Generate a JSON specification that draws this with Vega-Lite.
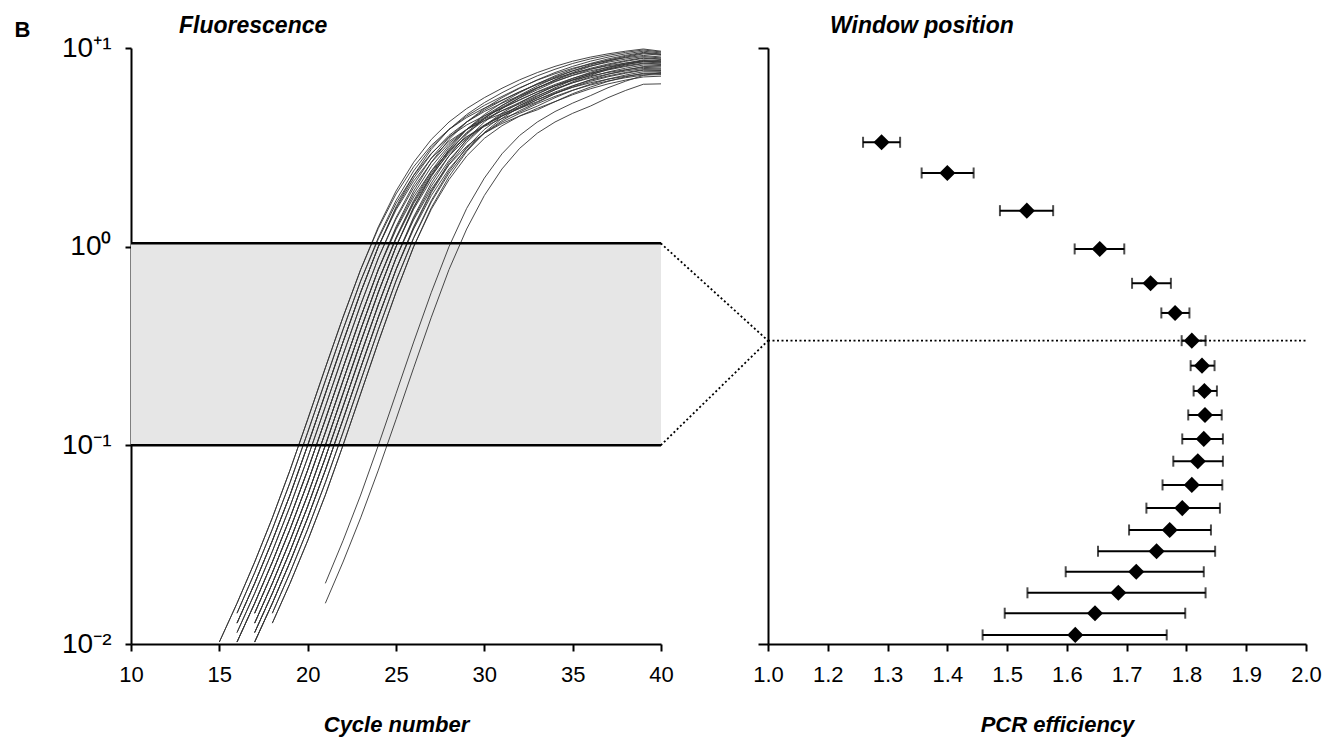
{
"$schema": "https://vega.github.io/schema/vega-lite/v6.json",
"padding": {"left": 14, "top": 15, "right": 5, "bottom": 5},
"background": "white",
"bounds": "flush",
"spacing": 107,
"config": {
  "font": "Liberation Sans",
  "view": {"stroke": null},
  "axis": {"grid": false, "domainColor": "#000", "domainWidth": 2, "tickColor": "#000", "tickWidth": 2, "labelColor": "#000", "titleColor": "#000", "labelFont": "Liberation Sans", "titleFont": "Liberation Sans", "labelFlush": false, "labelOverlap": false},
  "title": {"font": "Liberation Sans", "color": "#000"}
},
"datasets": {
  "band": [{"c": 10, "c2": 40, "f": 0.1, "f2": 1.04}],
  "edges": [{"c": 10, "c2": 40, "f": 0.1}, {"c": 10, "c2": 40, "f": 1.04}],
  "dots": [{"e": 0.9206, "w": 1.04, "e2": 1.1, "w2": 0.3364}, {"e": 0.9206, "w": 0.1, "e2": 1.1, "w2": 0.3364}, {"e": 1.1, "w": 0.3364, "e2": 2.0, "w2": 0.3364}],
  "eff": [
    {"w": 3.353, "e": 1.290, "lo": 1.259, "hi": 1.321},
    {"w": 2.349, "e": 1.400, "lo": 1.357, "hi": 1.444},
    {"w": 1.518, "e": 1.533, "lo": 1.488, "hi": 1.577},
    {"w": 0.974, "e": 1.655, "lo": 1.613, "hi": 1.696},
    {"w": 0.654, "e": 1.740, "lo": 1.709, "hi": 1.774},
    {"w": 0.4638, "e": 1.781, "lo": 1.758, "hi": 1.805},
    {"w": 0.3364, "e": 1.809, "lo": 1.792, "hi": 1.832},
    {"w": 0.2518, "e": 1.826, "lo": 1.807, "hi": 1.847},
    {"w": 0.1878, "e": 1.830, "lo": 1.812, "hi": 1.851},
    {"w": 0.1422, "e": 1.831, "lo": 1.803, "hi": 1.859},
    {"w": 0.1077, "e": 1.829, "lo": 1.793, "hi": 1.861},
    {"w": 0.0832, "e": 1.819, "lo": 1.778, "hi": 1.861},
    {"w": 0.0632, "e": 1.809, "lo": 1.760, "hi": 1.860},
    {"w": 0.0483, "e": 1.793, "lo": 1.733, "hi": 1.856},
    {"w": 0.0375, "e": 1.772, "lo": 1.704, "hi": 1.841},
    {"w": 0.0293, "e": 1.750, "lo": 1.652, "hi": 1.848},
    {"w": 0.0231, "e": 1.716, "lo": 1.598, "hi": 1.829},
    {"w": 0.0181, "e": 1.686, "lo": 1.534, "hi": 1.832},
    {"w": 0.01429, "e": 1.647, "lo": 1.496, "hi": 1.798},
    {"w": 0.01111, "e": 1.614, "lo": 1.459, "hi": 1.767}
  ],
  "curves": [
{"s":1,"c":15,"f":0.01023},{"s":1,"c":16,"f":0.01603},{"s":1,"c":17,"f":0.02585},{"s":1,"c":18,"f":0.04315},{"s":1,"c":19,"f":0.075},{"s":1,"c":20,"f":0.1349},{"s":1,"c":21,"f":0.2455},{"s":1,"c":22,"f":0.4416},{"s":1,"c":23,"f":0.767},{"s":1,"c":24,"f":1.259},{"s":1,"c":25,"f":1.905},{"s":1,"c":26,"f":2.661},{"s":1,"c":27,"f":3.467},{"s":1,"c":28,"f":4.242},{"s":1,"c":29,"f":4.955},{"s":1,"c":30,"f":5.623},{"s":1,"c":31,"f":6.273},{"s":1,"c":32,"f":6.918},{"s":1,"c":33,"f":7.524},{"s":1,"c":34,"f":8.082},{"s":1,"c":35,"f":8.58},{"s":1,"c":36,"f":8.995},{"s":1,"c":37,"f":9.344},{"s":1,"c":38,"f":9.638},{"s":1,"c":39,"f":9.886},{"s":1,"c":40,"f":9.636},
{"s":2,"c":15,"f":0.01023},{"s":2,"c":16,"f":0.01603},{"s":2,"c":17,"f":0.02585},{"s":2,"c":18,"f":0.04315},{"s":2,"c":19,"f":0.075},{"s":2,"c":20,"f":0.1349},{"s":2,"c":21,"f":0.2455},{"s":2,"c":22,"f":0.4416},{"s":2,"c":23,"f":0.767},{"s":2,"c":24,"f":1.237},{"s":2,"c":25,"f":1.84},{"s":2,"c":26,"f":2.527},{"s":2,"c":27,"f":3.236},{"s":2,"c":28,"f":3.891},{"s":2,"c":29,"f":4.467},{"s":2,"c":30,"f":4.983},{"s":2,"c":31,"f":5.464},{"s":2,"c":32,"f":6.026},{"s":2,"c":33,"f":6.553},{"s":2,"c":34,"f":7.039},{"s":2,"c":35,"f":7.473},{"s":2,"c":36,"f":7.835},{"s":2,"c":37,"f":8.139},{"s":2,"c":38,"f":8.395},{"s":2,"c":39,"f":8.611},{"s":2,"c":40,"f":8.48},
{"s":3,"c":16,"f":0.01429},{"s":3,"c":17,"f":0.02285},{"s":3,"c":18,"f":0.0378},{"s":3,"c":19,"f":0.06494},{"s":3,"c":20,"f":0.1161},{"s":3,"c":21,"f":0.2113},{"s":3,"c":22,"f":0.3824},{"s":3,"c":23,"f":0.6722},{"s":3,"c":24,"f":1.112},{"s":3,"c":25,"f":1.708},{"s":3,"c":26,"f":2.406},{"s":3,"c":27,"f":3.162},{"s":3,"c":28,"f":3.89},{"s":3,"c":29,"f":4.544},{"s":3,"c":30,"f":5.142},{"s":3,"c":31,"f":5.703},{"s":3,"c":32,"f":6.31},{"s":3,"c":33,"f":6.891},{"s":3,"c":34,"f":7.418},{"s":3,"c":35,"f":7.903},{"s":3,"c":36,"f":8.308},{"s":3,"c":37,"f":8.646},{"s":3,"c":38,"f":8.934},{"s":3,"c":39,"f":9.173},{"s":3,"c":40,"f":9.005},
{"s":4,"c":16,"f":0.01429},{"s":4,"c":17,"f":0.02285},{"s":4,"c":18,"f":0.0378},{"s":4,"c":19,"f":0.06494},{"s":4,"c":20,"f":0.1161},{"s":4,"c":21,"f":0.2113},{"s":4,"c":22,"f":0.3824},{"s":4,"c":23,"f":0.6722},{"s":4,"c":24,"f":1.093},{"s":4,"c":25,"f":1.65},{"s":4,"c":26,"f":2.284},{"s":4,"c":27,"f":2.951},{"s":4,"c":28,"f":3.568},{"s":4,"c":29,"f":4.097},{"s":4,"c":30,"f":4.557},{"s":4,"c":31,"f":4.967},{"s":4,"c":32,"f":5.495},{"s":4,"c":33,"f":6.001},{"s":4,"c":34,"f":6.46},{"s":4,"c":35,"f":6.883},{"s":4,"c":36,"f":7.236},{"s":4,"c":37,"f":7.53},{"s":4,"c":38,"f":7.78},{"s":4,"c":39,"f":7.989},{"s":4,"c":40,"f":7.924},
{"s":5,"c":16,"f":0.01274},{"s":5,"c":17,"f":0.0202},{"s":5,"c":18,"f":0.0331},{"s":5,"c":19,"f":0.0562},{"s":5,"c":20,"f":0.1},{"s":5,"c":21,"f":0.182},{"s":5,"c":22,"f":0.331},{"s":5,"c":23,"f":0.589},{"s":5,"c":24,"f":1.0},{"s":5,"c":25,"f":1.585},{"s":5,"c":26,"f":2.291},{"s":5,"c":27,"f":3.09},{"s":5,"c":28,"f":3.89},{"s":5,"c":29,"f":4.624},{"s":5,"c":30,"f":5.309},{"s":5,"c":31,"f":5.957},{"s":5,"c":32,"f":6.607},{"s":5,"c":33,"f":7.244},{"s":5,"c":34,"f":7.816},{"s":5,"c":35,"f":8.356},{"s":5,"c":36,"f":8.81},{"s":5,"c":37,"f":9.183},{"s":5,"c":38,"f":9.506},{"s":5,"c":39,"f":9.772},{"s":5,"c":40,"f":9.55},
{"s":6,"c":16,"f":0.01274},{"s":6,"c":17,"f":0.0202},{"s":6,"c":18,"f":0.0331},{"s":6,"c":19,"f":0.0562},{"s":6,"c":20,"f":0.1},{"s":6,"c":21,"f":0.182},{"s":6,"c":22,"f":0.331},{"s":6,"c":23,"f":0.589},{"s":6,"c":24,"f":1.0},{"s":6,"c":25,"f":1.558},{"s":6,"c":26,"f":2.213},{"s":6,"c":27,"f":2.934},{"s":6,"c":28,"f":3.631},{"s":6,"c":29,"f":4.242},{"s":6,"c":30,"f":4.787},{"s":6,"c":31,"f":5.279},{"s":6,"c":32,"f":5.755},{"s":6,"c":33,"f":6.31},{"s":6,"c":34,"f":6.808},{"s":6,"c":35,"f":7.278},{"s":6,"c":36,"f":7.674},{"s":6,"c":37,"f":7.998},{"s":6,"c":38,"f":8.28},{"s":6,"c":39,"f":8.511},{"s":6,"c":40,"f":8.405},
{"s":7,"c":16,"f":0.01142},{"s":7,"c":17,"f":0.01799},{"s":7,"c":18,"f":0.02926},{"s":7,"c":19,"f":0.04926},{"s":7,"c":20,"f":0.0866},{"s":7,"c":21,"f":0.1567},{"s":7,"c":22,"f":0.2851},{"s":7,"c":23,"f":0.51},{"s":7,"c":24,"f":0.876},{"s":7,"c":25,"f":1.401},{"s":7,"c":26,"f":2.053},{"s":7,"c":27,"f":2.794},{"s":7,"c":28,"f":3.548},{"s":7,"c":29,"f":4.241},{"s":7,"c":30,"f":4.87},{"s":7,"c":31,"f":5.448},{"s":7,"c":32,"f":6.009},{"s":7,"c":33,"f":6.607},{"s":7,"c":34,"f":7.158},{"s":7,"c":35,"f":7.67},{"s":7,"c":36,"f":8.114},{"s":7,"c":37,"f":8.483},{"s":7,"c":38,"f":8.796},{"s":7,"c":39,"f":9.058},{"s":7,"c":40,"f":8.909},
{"s":8,"c":16,"f":0.01142},{"s":8,"c":17,"f":0.01799},{"s":8,"c":18,"f":0.02926},{"s":8,"c":19,"f":0.04926},{"s":8,"c":20,"f":0.0866},{"s":8,"c":21,"f":0.1567},{"s":8,"c":22,"f":0.2851},{"s":8,"c":23,"f":0.51},{"s":8,"c":24,"f":0.876},{"s":8,"c":25,"f":1.377},{"s":8,"c":26,"f":1.984},{"s":8,"c":27,"f":2.653},{"s":8,"c":28,"f":3.312},{"s":8,"c":29,"f":3.89},{"s":8,"c":30,"f":4.39},{"s":8,"c":31,"f":4.828},{"s":8,"c":32,"f":5.233},{"s":8,"c":33,"f":5.754},{"s":8,"c":34,"f":6.234},{"s":8,"c":35,"f":6.68},{"s":8,"c":36,"f":7.067},{"s":8,"c":37,"f":7.388},{"s":8,"c":38,"f":7.661},{"s":8,"c":39,"f":7.888},{"s":8,"c":40,"f":7.84},
{"s":9,"c":16,"f":0.01023},{"s":9,"c":17,"f":0.01603},{"s":9,"c":18,"f":0.02585},{"s":9,"c":19,"f":0.04315},{"s":9,"c":20,"f":0.075},{"s":9,"c":21,"f":0.1349},{"s":9,"c":22,"f":0.2455},{"s":9,"c":23,"f":0.4416},{"s":9,"c":24,"f":0.767},{"s":9,"c":25,"f":1.259},{"s":9,"c":26,"f":1.905},{"s":9,"c":27,"f":2.661},{"s":9,"c":28,"f":3.467},{"s":9,"c":29,"f":4.242},{"s":9,"c":30,"f":4.955},{"s":9,"c":31,"f":5.623},{"s":9,"c":32,"f":6.273},{"s":9,"c":33,"f":6.918},{"s":9,"c":34,"f":7.524},{"s":9,"c":35,"f":8.082},{"s":9,"c":36,"f":8.58},{"s":9,"c":37,"f":8.995},{"s":9,"c":38,"f":9.344},{"s":9,"c":39,"f":9.638},{"s":9,"c":40,"f":9.441},
{"s":10,"c":16,"f":0.01023},{"s":10,"c":17,"f":0.01603},{"s":10,"c":18,"f":0.02585},{"s":10,"c":19,"f":0.04315},{"s":10,"c":20,"f":0.075},{"s":10,"c":21,"f":0.1349},{"s":10,"c":22,"f":0.2455},{"s":10,"c":23,"f":0.4416},{"s":10,"c":24,"f":0.767},{"s":10,"c":25,"f":1.237},{"s":10,"c":26,"f":1.84},{"s":10,"c":27,"f":2.527},{"s":10,"c":28,"f":3.236},{"s":10,"c":29,"f":3.891},{"s":10,"c":30,"f":4.467},{"s":10,"c":31,"f":4.983},{"s":10,"c":32,"f":5.464},{"s":10,"c":33,"f":6.026},{"s":10,"c":34,"f":6.553},{"s":10,"c":35,"f":7.039},{"s":10,"c":36,"f":7.473},{"s":10,"c":37,"f":7.835},{"s":10,"c":38,"f":8.139},{"s":10,"c":39,"f":8.395},{"s":10,"c":40,"f":8.31},
{"s":11,"c":16,"f":0.01023},{"s":11,"c":17,"f":0.01603},{"s":11,"c":18,"f":0.02585},{"s":11,"c":19,"f":0.04315},{"s":11,"c":20,"f":0.075},{"s":11,"c":21,"f":0.1349},{"s":11,"c":22,"f":0.2455},{"s":11,"c":23,"f":0.4416},{"s":11,"c":24,"f":0.767},{"s":11,"c":25,"f":1.216},{"s":11,"c":26,"f":1.778},{"s":11,"c":27,"f":2.399},{"s":11,"c":28,"f":3.02},{"s":11,"c":29,"f":3.569},{"s":11,"c":30,"f":4.027},{"s":11,"c":31,"f":4.415},{"s":11,"c":32,"f":4.759},{"s":11,"c":33,"f":5.248},{"s":11,"c":34,"f":5.708},{"s":11,"c":35,"f":6.131},{"s":11,"c":36,"f":6.509},{"s":11,"c":37,"f":6.824},{"s":11,"c":38,"f":7.088},{"s":11,"c":39,"f":7.311},{"s":11,"c":40,"f":7.349},
{"s":12,"c":17,"f":0.01429},{"s":12,"c":18,"f":0.02285},{"s":12,"c":19,"f":0.0378},{"s":12,"c":20,"f":0.06494},{"s":12,"c":21,"f":0.1161},{"s":12,"c":22,"f":0.2113},{"s":12,"c":23,"f":0.3824},{"s":12,"c":24,"f":0.6722},{"s":12,"c":25,"f":1.112},{"s":12,"c":26,"f":1.708},{"s":12,"c":27,"f":2.406},{"s":12,"c":28,"f":3.162},{"s":12,"c":29,"f":3.89},{"s":12,"c":30,"f":4.544},{"s":12,"c":31,"f":5.142},{"s":12,"c":32,"f":5.703},{"s":12,"c":33,"f":6.31},{"s":12,"c":34,"f":6.891},{"s":12,"c":35,"f":7.418},{"s":12,"c":36,"f":7.903},{"s":12,"c":37,"f":8.308},{"s":12,"c":38,"f":8.646},{"s":12,"c":39,"f":8.934},{"s":12,"c":40,"f":8.806},
{"s":13,"c":17,"f":0.01429},{"s":13,"c":18,"f":0.02285},{"s":13,"c":19,"f":0.0378},{"s":13,"c":20,"f":0.06494},{"s":13,"c":21,"f":0.1161},{"s":13,"c":22,"f":0.2113},{"s":13,"c":23,"f":0.3824},{"s":13,"c":24,"f":0.6722},{"s":13,"c":25,"f":1.103},{"s":13,"c":26,"f":1.679},{"s":13,"c":27,"f":2.344},{"s":13,"c":28,"f":3.055},{"s":13,"c":29,"f":3.726},{"s":13,"c":30,"f":4.315},{"s":13,"c":31,"f":4.841},{"s":13,"c":32,"f":5.323},{"s":13,"c":33,"f":5.889},{"s":13,"c":34,"f":6.431},{"s":13,"c":35,"f":6.923},{"s":13,"c":36,"f":7.376},{"s":13,"c":37,"f":7.754},{"s":13,"c":38,"f":8.069},{"s":13,"c":39,"f":8.337},{"s":13,"c":40,"f":8.261},
{"s":27,"c":17,"f":0.01429},{"s":27,"c":18,"f":0.02285},{"s":27,"c":19,"f":0.0378},{"s":27,"c":20,"f":0.06494},{"s":27,"c":21,"f":0.1161},{"s":27,"c":22,"f":0.2113},{"s":27,"c":23,"f":0.3824},{"s":27,"c":24,"f":0.6722},{"s":27,"c":25,"f":1.093},{"s":27,"c":26,"f":1.65},{"s":27,"c":27,"f":2.284},{"s":27,"c":28,"f":2.951},{"s":27,"c":29,"f":3.568},{"s":27,"c":30,"f":4.097},{"s":27,"c":31,"f":4.557},{"s":27,"c":32,"f":4.967},{"s":27,"c":33,"f":5.495},{"s":27,"c":34,"f":6.001},{"s":27,"c":35,"f":6.46},{"s":27,"c":36,"f":6.883},{"s":27,"c":37,"f":7.236},{"s":27,"c":38,"f":7.53},{"s":27,"c":39,"f":7.78},{"s":27,"c":40,"f":7.749},
{"s":14,"c":17,"f":0.01274},{"s":14,"c":18,"f":0.0202},{"s":14,"c":19,"f":0.0331},{"s":14,"c":20,"f":0.0562},{"s":14,"c":21,"f":0.1},{"s":14,"c":22,"f":0.182},{"s":14,"c":23,"f":0.331},{"s":14,"c":24,"f":0.589},{"s":14,"c":25,"f":1.0},{"s":14,"c":26,"f":1.571},{"s":14,"c":27,"f":2.252},{"s":14,"c":28,"f":3.011},{"s":14,"c":29,"f":3.758},{"s":14,"c":30,"f":4.428},{"s":14,"c":31,"f":5.041},{"s":14,"c":32,"f":5.607},{"s":14,"c":33,"f":6.166},{"s":14,"c":34,"f":6.761},{"s":14,"c":35,"f":7.295},{"s":14,"c":36,"f":7.799},{"s":14,"c":37,"f":8.222},{"s":14,"c":38,"f":8.57},{"s":14,"c":39,"f":8.872},{"s":14,"c":40,"f":8.755},
{"s":15,"c":17,"f":0.01274},{"s":15,"c":18,"f":0.0202},{"s":15,"c":19,"f":0.0331},{"s":15,"c":20,"f":0.0562},{"s":15,"c":21,"f":0.1},{"s":15,"c":22,"f":0.182},{"s":15,"c":23,"f":0.331},{"s":15,"c":24,"f":0.589},{"s":15,"c":25,"f":1.0},{"s":15,"c":26,"f":1.544},{"s":15,"c":27,"f":2.175},{"s":15,"c":28,"f":2.859},{"s":15,"c":29,"f":3.507},{"s":15,"c":30,"f":4.062},{"s":15,"c":31,"f":4.545},{"s":15,"c":32,"f":4.969},{"s":15,"c":33,"f":5.37},{"s":15,"c":34,"f":5.888},{"s":15,"c":35,"f":6.353},{"s":15,"c":36,"f":6.792},{"s":15,"c":37,"f":7.161},{"s":15,"c":38,"f":7.464},{"s":15,"c":39,"f":7.727},{"s":15,"c":40,"f":7.705},
{"s":16,"c":17,"f":0.01274},{"s":16,"c":18,"f":0.0202},{"s":16,"c":19,"f":0.0331},{"s":16,"c":20,"f":0.0562},{"s":16,"c":21,"f":0.1},{"s":16,"c":22,"f":0.182},{"s":16,"c":23,"f":0.331},{"s":16,"c":24,"f":0.589},{"s":16,"c":25,"f":1.0},{"s":16,"c":26,"f":1.585},{"s":16,"c":27,"f":2.291},{"s":16,"c":28,"f":3.09},{"s":16,"c":29,"f":3.89},{"s":16,"c":30,"f":4.624},{"s":16,"c":31,"f":5.309},{"s":16,"c":32,"f":5.957},{"s":16,"c":33,"f":6.607},{"s":16,"c":34,"f":7.244},{"s":16,"c":35,"f":7.816},{"s":16,"c":36,"f":8.356},{"s":16,"c":37,"f":8.81},{"s":16,"c":38,"f":9.183},{"s":16,"c":39,"f":9.506},{"s":16,"c":40,"f":9.332},
{"s":17,"c":17,"f":0.01142},{"s":17,"c":18,"f":0.01799},{"s":17,"c":19,"f":0.02926},{"s":17,"c":20,"f":0.04926},{"s":17,"c":21,"f":0.0866},{"s":17,"c":22,"f":0.1567},{"s":17,"c":23,"f":0.2851},{"s":17,"c":24,"f":0.51},{"s":17,"c":25,"f":0.876},{"s":17,"c":26,"f":1.389},{"s":17,"c":27,"f":2.018},{"s":17,"c":28,"f":2.722},{"s":17,"c":29,"f":3.428},{"s":17,"c":30,"f":4.062},{"s":17,"c":31,"f":4.624},{"s":17,"c":32,"f":5.129},{"s":17,"c":33,"f":5.607},{"s":17,"c":34,"f":6.166},{"s":17,"c":35,"f":6.681},{"s":17,"c":36,"f":7.158},{"s":17,"c":37,"f":7.572},{"s":17,"c":38,"f":7.917},{"s":17,"c":39,"f":8.209},{"s":17,"c":40,"f":8.157},
{"s":18,"c":17,"f":0.01142},{"s":18,"c":18,"f":0.01799},{"s":18,"c":19,"f":0.02926},{"s":18,"c":20,"f":0.04926},{"s":18,"c":21,"f":0.0866},{"s":18,"c":22,"f":0.1567},{"s":18,"c":23,"f":0.2851},{"s":18,"c":24,"f":0.51},{"s":18,"c":25,"f":0.876},{"s":18,"c":26,"f":1.365},{"s":18,"c":27,"f":1.95},{"s":18,"c":28,"f":2.585},{"s":18,"c":29,"f":3.199},{"s":18,"c":30,"f":3.726},{"s":18,"c":31,"f":4.169},{"s":18,"c":32,"f":4.545},{"s":18,"c":33,"f":4.884},{"s":18,"c":34,"f":5.37},{"s":18,"c":35,"f":5.818},{"s":18,"c":36,"f":6.234},{"s":18,"c":37,"f":6.595},{"s":18,"c":38,"f":6.895},{"s":18,"c":39,"f":7.15},{"s":18,"c":40,"f":7.215},
{"s":28,"c":17,"f":0.01142},{"s":28,"c":18,"f":0.01799},{"s":28,"c":19,"f":0.02926},{"s":28,"c":20,"f":0.04926},{"s":28,"c":21,"f":0.0866},{"s":28,"c":22,"f":0.1567},{"s":28,"c":23,"f":0.2851},{"s":28,"c":24,"f":0.51},{"s":28,"c":25,"f":0.876},{"s":28,"c":26,"f":1.413},{"s":28,"c":27,"f":2.089},{"s":28,"c":28,"f":2.867},{"s":28,"c":29,"f":3.673},{"s":28,"c":30,"f":4.428},{"s":28,"c":31,"f":5.129},{"s":28,"c":32,"f":5.788},{"s":28,"c":33,"f":6.438},{"s":28,"c":34,"f":7.079},{"s":28,"c":35,"f":7.67},{"s":28,"c":36,"f":8.218},{"s":28,"c":37,"f":8.694},{"s":28,"c":38,"f":9.089},{"s":28,"c":39,"f":9.425},{"s":28,"c":40,"f":9.268},
{"s":19,"c":17,"f":0.01023},{"s":19,"c":18,"f":0.01603},{"s":19,"c":19,"f":0.02585},{"s":19,"c":20,"f":0.04315},{"s":19,"c":21,"f":0.075},{"s":19,"c":22,"f":0.1349},{"s":19,"c":23,"f":0.2455},{"s":19,"c":24,"f":0.4416},{"s":19,"c":25,"f":0.767},{"s":19,"c":26,"f":1.248},{"s":19,"c":27,"f":1.872},{"s":19,"c":28,"f":2.593},{"s":19,"c":29,"f":3.349},{"s":19,"c":30,"f":4.063},{"s":19,"c":31,"f":4.705},{"s":19,"c":32,"f":5.293},{"s":19,"c":33,"f":5.855},{"s":19,"c":34,"f":6.457},{"s":19,"c":35,"f":7.022},{"s":19,"c":36,"f":7.543},{"s":19,"c":37,"f":8.008},{"s":19,"c":38,"f":8.395},{"s":19,"c":39,"f":8.721},{"s":19,"c":40,"f":8.635},
{"s":20,"c":17,"f":0.01023},{"s":20,"c":18,"f":0.01603},{"s":20,"c":19,"f":0.02585},{"s":20,"c":20,"f":0.04315},{"s":20,"c":21,"f":0.075},{"s":20,"c":22,"f":0.1349},{"s":20,"c":23,"f":0.2455},{"s":20,"c":24,"f":0.4416},{"s":20,"c":25,"f":0.767},{"s":20,"c":26,"f":1.227},{"s":20,"c":27,"f":1.809},{"s":20,"c":28,"f":2.462},{"s":20,"c":29,"f":3.126},{"s":20,"c":30,"f":3.727},{"s":20,"c":31,"f":4.241},{"s":20,"c":32,"f":4.69},{"s":20,"c":33,"f":5.099},{"s":20,"c":34,"f":5.623},{"s":20,"c":35,"f":6.116},{"s":20,"c":36,"f":6.569},{"s":20,"c":37,"f":6.974},{"s":20,"c":38,"f":7.311},{"s":20,"c":39,"f":7.595},{"s":20,"c":40,"f":7.599},
{"s":21,"c":17,"f":0.01023},{"s":21,"c":18,"f":0.01603},{"s":21,"c":19,"f":0.02585},{"s":21,"c":20,"f":0.04315},{"s":21,"c":21,"f":0.075},{"s":21,"c":22,"f":0.1349},{"s":21,"c":23,"f":0.2455},{"s":21,"c":24,"f":0.4416},{"s":21,"c":25,"f":0.767},{"s":21,"c":26,"f":1.259},{"s":21,"c":27,"f":1.905},{"s":21,"c":28,"f":2.661},{"s":21,"c":29,"f":3.467},{"s":21,"c":30,"f":4.242},{"s":21,"c":31,"f":4.955},{"s":21,"c":32,"f":5.623},{"s":21,"c":33,"f":6.273},{"s":21,"c":34,"f":6.918},{"s":21,"c":35,"f":7.524},{"s":21,"c":36,"f":8.082},{"s":21,"c":37,"f":8.58},{"s":21,"c":38,"f":8.995},{"s":21,"c":39,"f":9.344},{"s":21,"c":40,"f":9.204},
{"s":22,"c":18,"f":0.01429},{"s":22,"c":19,"f":0.02285},{"s":22,"c":20,"f":0.0378},{"s":22,"c":21,"f":0.06494},{"s":22,"c":22,"f":0.1161},{"s":22,"c":23,"f":0.2113},{"s":22,"c":24,"f":0.3824},{"s":22,"c":25,"f":0.6722},{"s":22,"c":26,"f":1.103},{"s":22,"c":27,"f":1.679},{"s":22,"c":28,"f":2.344},{"s":22,"c":29,"f":3.055},{"s":22,"c":30,"f":3.726},{"s":22,"c":31,"f":4.315},{"s":22,"c":32,"f":4.841},{"s":22,"c":33,"f":5.323},{"s":22,"c":34,"f":5.889},{"s":22,"c":35,"f":6.431},{"s":22,"c":36,"f":6.923},{"s":22,"c":37,"f":7.376},{"s":22,"c":38,"f":7.754},{"s":22,"c":39,"f":8.069},{"s":22,"c":40,"f":8.045},
{"s":23,"c":18,"f":0.01429},{"s":23,"c":19,"f":0.02285},{"s":23,"c":20,"f":0.0378},{"s":23,"c":21,"f":0.06494},{"s":23,"c":22,"f":0.1161},{"s":23,"c":23,"f":0.2113},{"s":23,"c":24,"f":0.3824},{"s":23,"c":25,"f":0.6722},{"s":23,"c":26,"f":1.112},{"s":23,"c":27,"f":1.708},{"s":23,"c":28,"f":2.406},{"s":23,"c":29,"f":3.162},{"s":23,"c":30,"f":3.89},{"s":23,"c":31,"f":4.544},{"s":23,"c":32,"f":5.142},{"s":23,"c":33,"f":5.703},{"s":23,"c":34,"f":6.31},{"s":23,"c":35,"f":6.891},{"s":23,"c":36,"f":7.418},{"s":23,"c":37,"f":7.903},{"s":23,"c":38,"f":8.308},{"s":23,"c":39,"f":8.646},{"s":23,"c":40,"f":8.577},
{"s":24,"c":18,"f":0.01274},{"s":24,"c":19,"f":0.0202},{"s":24,"c":20,"f":0.0331},{"s":24,"c":21,"f":0.0562},{"s":24,"c":22,"f":0.1},{"s":24,"c":23,"f":0.182},{"s":24,"c":24,"f":0.331},{"s":24,"c":25,"f":0.589},{"s":24,"c":26,"f":1.0},{"s":24,"c":27,"f":1.544},{"s":24,"c":28,"f":2.175},{"s":24,"c":29,"f":2.859},{"s":24,"c":30,"f":3.507},{"s":24,"c":31,"f":4.062},{"s":24,"c":32,"f":4.545},{"s":24,"c":33,"f":4.969},{"s":24,"c":34,"f":5.37},{"s":24,"c":35,"f":5.888},{"s":24,"c":36,"f":6.353},{"s":24,"c":37,"f":6.792},{"s":24,"c":38,"f":7.161},{"s":24,"c":39,"f":7.464},{"s":24,"c":40,"f":7.495},
{"s":25,"c":18,"f":0.01274},{"s":25,"c":19,"f":0.0202},{"s":25,"c":20,"f":0.0331},{"s":25,"c":21,"f":0.0562},{"s":25,"c":22,"f":0.1},{"s":25,"c":23,"f":0.182},{"s":25,"c":24,"f":0.331},{"s":25,"c":25,"f":0.589},{"s":25,"c":26,"f":1.0},{"s":25,"c":27,"f":1.571},{"s":25,"c":28,"f":2.252},{"s":25,"c":29,"f":3.011},{"s":25,"c":30,"f":3.758},{"s":25,"c":31,"f":4.428},{"s":25,"c":32,"f":5.041},{"s":25,"c":33,"f":5.607},{"s":25,"c":34,"f":6.166},{"s":25,"c":35,"f":6.761},{"s":25,"c":36,"f":7.295},{"s":25,"c":37,"f":7.799},{"s":25,"c":38,"f":8.222},{"s":25,"c":39,"f":8.57},{"s":25,"c":40,"f":8.517},
{"s":26,"c":16,"f":0.01274},{"s":26,"c":17,"f":0.0202},{"s":26,"c":18,"f":0.0331},{"s":26,"c":19,"f":0.0562},{"s":26,"c":20,"f":0.1},{"s":26,"c":21,"f":0.182},{"s":26,"c":22,"f":0.331},{"s":26,"c":23,"f":0.589},{"s":26,"c":24,"f":1.0},{"s":26,"c":25,"f":1.531},{"s":26,"c":26,"f":2.138},{"s":26,"c":27,"f":2.786},{"s":26,"c":28,"f":3.388},{"s":26,"c":29,"f":3.891},{"s":26,"c":30,"f":4.315},{"s":26,"c":31,"f":4.677},{"s":26,"c":32,"f":5.012},{"s":26,"c":33,"f":5.495},{"s":26,"c":34,"f":5.929},{"s":26,"c":35,"f":6.339},{"s":26,"c":36,"f":6.683},{"s":26,"c":37,"f":6.966},{"s":26,"c":38,"f":7.211},{"s":26,"c":39,"f":7.413},{"s":26,"c":40,"f":7.434},
{"s":29,"c":21,"f":0.0202},{"s":29,"c":22,"f":0.0331},{"s":29,"c":23,"f":0.0562},{"s":29,"c":24,"f":0.1},{"s":29,"c":25,"f":0.182},{"s":29,"c":26,"f":0.331},{"s":29,"c":27,"f":0.589},{"s":29,"c":28,"f":1.0},{"s":29,"c":29,"f":1.558},{"s":29,"c":30,"f":2.213},{"s":29,"c":31,"f":2.934},{"s":29,"c":32,"f":3.631},{"s":29,"c":33,"f":4.242},{"s":29,"c":34,"f":4.787},{"s":29,"c":35,"f":5.279},{"s":29,"c":36,"f":5.755},{"s":29,"c":37,"f":6.31},{"s":29,"c":38,"f":6.808},{"s":29,"c":39,"f":7.278},{"s":29,"c":40,"f":7.52},
{"s":30,"c":21,"f":0.01603},{"s":30,"c":22,"f":0.02585},{"s":30,"c":23,"f":0.04315},{"s":30,"c":24,"f":0.075},{"s":30,"c":25,"f":0.1349},{"s":30,"c":26,"f":0.2455},{"s":30,"c":27,"f":0.4416},{"s":30,"c":28,"f":0.767},{"s":30,"c":29,"f":1.227},{"s":30,"c":30,"f":1.809},{"s":30,"c":31,"f":2.462},{"s":30,"c":32,"f":3.126},{"s":30,"c":33,"f":3.727},{"s":30,"c":34,"f":4.241},{"s":30,"c":35,"f":4.69},{"s":30,"c":36,"f":5.099},{"s":30,"c":37,"f":5.623},{"s":30,"c":38,"f":6.116},{"s":30,"c":39,"f":6.569},{"s":30,"c":40,"f":6.6}
  ]
},
"hconcat": [
  {
    "width": 530, "height": 596,
    "title": {"text": "Fluorescence", "anchor": "start", "frame": "group", "dx": 48, "offset": -38, "fontSize": 23, "fontStyle": "italic", "fontWeight": "bold", "baseline": "alphabetic"},
    "encoding": {
      "x": {"field": "c", "type": "quantitative", "scale": {"type": "linear", "domain": [10, 40], "nice": false, "zero": false},
            "axis": {"values": [10, 15, 20, 25, 30, 35, 40], "tickSize": 7, "labelPadding": 13, "labelFontSize": 22, "title": "Cycle number", "titleFontSize": 22, "titleFontStyle": "italic", "titleFontWeight": "bold", "titleY": 87, "titleBaseline": "alphabetic"}},
      "y": {"field": "f", "type": "quantitative", "scale": {"type": "log", "domain": [0.01, 10], "nice": false},
            "axis": {"values": [0.01, 0.1, 1, 10], "tickSize": 6, "labelPadding": 14, "labelFontSize": 28, "labelBaseline": "middle",
                     "labelExpr": "datum.value > 5 ? '10⁺¹' : datum.value > 0.5 ? '10⁰' : datum.value > 0.05 ? '10⁻¹' : '10⁻²'",
                     "title": "B", "titleAngle": 0, "titleX": -117, "titleY": -19, "titleAlign": "left", "titleBaseline": "middle", "titleFontSize": 22, "titleFontWeight": "bold", "titleFontStyle": "normal"}}
    },
    "layer": [
      {"data": {"name": "band"}, "mark": {"type": "rect", "color": "#e6e6e6"}, "encoding": {"x2": {"field": "c2"}, "y2": {"field": "f2"}}},
      {"data": {"name": "curves"}, "mark": {"type": "line", "stroke": "#333333", "strokeWidth": 0.9}, "encoding": {"detail": {"field": "s", "type": "nominal"}}},
      {"data": {"name": "edges"}, "mark": {"type": "rule", "color": "#000", "strokeWidth": 2.5}, "encoding": {"x2": {"field": "c2"}}}
    ]
  },
  {
    "width": 538, "height": 596,
    "title": {"text": "Window position", "anchor": "start", "frame": "group", "dx": 62, "offset": -9, "fontSize": 23, "fontStyle": "italic", "fontWeight": "bold", "baseline": "alphabetic"},
    "encoding": {
      "x": {"field": "e", "type": "quantitative", "scale": {"type": "linear", "domain": [1.1, 2.0], "nice": false, "zero": false},
            "axis": {"values": [1.1, 1.2, 1.3, 1.4, 1.5, 1.6, 1.7, 1.8, 1.9, 2.0], "tickSize": 7, "labelPadding": 13, "labelFontSize": 22,
                     "labelExpr": "datum.value < 1.15 ? '1.0' : format(datum.value, '.1f')",
                     "title": "PCR efficiency", "titleFontSize": 22, "titleFontStyle": "italic", "titleFontWeight": "bold", "titleX": 289, "titleY": 87, "titleBaseline": "alphabetic"}},
      "y": {"field": "w", "type": "quantitative", "scale": {"type": "log", "domain": [0.01, 10], "nice": false},
            "axis": {"values": [0.01, 10], "labels": false, "tickSize": 10, "title": null}}
    },
    "layer": [
      {"data": {"name": "dots"}, "mark": {"type": "rule", "color": "#000", "strokeWidth": 1.8, "strokeDash": [2, 2.5]}, "encoding": {"x2": {"field": "e2"}, "y2": {"field": "w2"}}},
      {"data": {"name": "eff"}, "mark": {"type": "rule", "color": "#000", "strokeWidth": 2}, "encoding": {"x": {"field": "lo", "type": "quantitative", "scale": {"type": "linear", "domain": [1.1, 2.0], "nice": false, "zero": false}}, "x2": {"field": "hi"}}},
      {"data": {"name": "eff"}, "mark": {"type": "tick", "orient": "vertical", "color": "#000", "size": 11, "thickness": 2}, "encoding": {"x": {"field": "lo", "type": "quantitative", "scale": {"type": "linear", "domain": [1.1, 2.0], "nice": false, "zero": false}}}},
      {"data": {"name": "eff"}, "mark": {"type": "tick", "orient": "vertical", "color": "#000", "size": 11, "thickness": 2}, "encoding": {"x": {"field": "hi", "type": "quantitative", "scale": {"type": "linear", "domain": [1.1, 2.0], "nice": false, "zero": false}}}},
      {"data": {"name": "eff"}, "mark": {"type": "point", "shape": "diamond", "filled": true, "size": 260, "color": "#000", "opacity": 1}}
    ]
  }
]
}
